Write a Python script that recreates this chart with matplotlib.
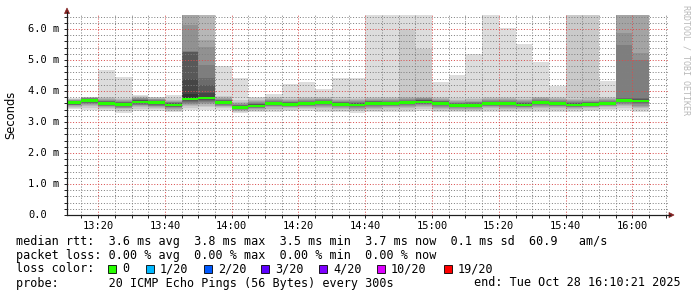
import numpy as np
import pandas as pd
import matplotlib
matplotlib.use("Agg")
import matplotlib.pyplot as plt
import matplotlib.dates as mdates
import matplotlib.transforms as mtransforms
from matplotlib.ticker import MultipleLocator
from matplotlib.patches import Polygon, Rectangle
from matplotlib.lines import Line2D

W, H = 697, 297
MONO = "DejaVu Sans Mono"

# 5 minute slots (start of each slot), 20 pings per slot
slot_start = pd.date_range("2025-10-28 13:10", "2025-10-28 16:00", freq="5min")
t_begin = pd.Timestamp("2025-10-28 13:10:40")
t_end = pd.Timestamp("2025-10-28 16:10:40")

# median rtt per slot (ms)
median_ms = [3.62, 3.69, 3.60, 3.57, 3.65, 3.62, 3.55, 3.74, 3.77, 3.63,
             3.47, 3.52, 3.59, 3.56, 3.59, 3.62, 3.56, 3.55, 3.60, 3.59,
             3.62, 3.65, 3.60, 3.53, 3.53, 3.59, 3.59, 3.55, 3.62, 3.59,
             3.55, 3.57, 3.59, 3.69, 3.68]

# sorted ping times per slot (ms)
pings_ms = [
    [3.42, 3.46, 3.49, 3.52, 3.54, 3.55, 3.56, 3.58, 3.60, 3.61, 3.63, 3.65, 3.67, 3.68, 3.69, 3.70, 3.71, 3.73, 3.75, 3.78],
    [3.38, 3.45, 3.50, 3.54, 3.57, 3.60, 3.62, 3.64, 3.66, 3.68, 3.70, 3.72, 3.74, 3.75, 3.76, 3.77, 3.78, 3.79, 3.80, 3.82],
    [3.37, 3.42, 3.46, 3.49, 3.51, 3.53, 3.54, 3.56, 3.57, 3.59, 3.61, 3.63, 3.65, 3.67, 3.69, 3.71, 3.73, 3.76, 3.80, 4.68],
    [3.30, 3.37, 3.41, 3.44, 3.46, 3.48, 3.50, 3.52, 3.54, 3.56, 3.58, 3.60, 3.62, 3.64, 3.66, 3.68, 3.70, 3.73, 3.77, 4.44],
    [3.35, 3.42, 3.47, 3.51, 3.54, 3.56, 3.58, 3.60, 3.62, 3.64, 3.66, 3.68, 3.70, 3.72, 3.74, 3.76, 3.78, 3.80, 3.83, 3.87],
    [3.36, 3.42, 3.46, 3.49, 3.51, 3.53, 3.55, 3.57, 3.59, 3.61, 3.63, 3.65, 3.67, 3.69, 3.71, 3.73, 3.75, 3.77, 3.79, 3.82],
    [3.31, 3.36, 3.40, 3.43, 3.45, 3.47, 3.49, 3.51, 3.53, 3.54, 3.56, 3.58, 3.60, 3.62, 3.64, 3.66, 3.69, 3.72, 3.77, 3.87],
    [3.38, 3.45, 3.50, 3.55, 3.59, 3.62, 3.65, 3.68, 3.71, 3.73, 3.90, 4.40, 5.26, 5.27, 5.28, 6.13, 6.60, 7.00, 7.50, 8.00],
    [3.40, 3.47, 3.52, 3.57, 3.61, 3.65, 3.69, 3.72, 3.74, 3.76, 3.79, 3.94, 4.19, 4.42, 4.84, 5.43, 5.65, 6.60, 7.00, 7.50],
    [3.39, 3.44, 3.48, 3.51, 3.53, 3.55, 3.57, 3.59, 3.61, 3.62, 3.64, 3.66, 3.68, 3.70, 3.72, 3.74, 3.76, 3.79, 3.83, 4.81],
    [3.28, 3.32, 3.35, 3.38, 3.40, 3.42, 3.43, 3.44, 3.45, 3.46, 3.48, 3.50, 3.52, 3.54, 3.56, 3.59, 3.62, 3.66, 3.72, 4.41],
    [3.31, 3.36, 3.40, 3.43, 3.45, 3.46, 3.47, 3.48, 3.49, 3.51, 3.53, 3.55, 3.57, 3.59, 3.61, 3.64, 3.67, 3.71, 3.76, 3.82],
    [3.33, 3.39, 3.43, 3.47, 3.50, 3.52, 3.54, 3.56, 3.57, 3.58, 3.60, 3.62, 3.64, 3.66, 3.68, 3.70, 3.73, 3.76, 3.80, 3.90],
    [3.35, 3.40, 3.44, 3.47, 3.49, 3.51, 3.52, 3.53, 3.54, 3.55, 3.57, 3.59, 3.61, 3.63, 3.65, 3.68, 3.71, 3.74, 3.79, 4.23],
    [3.35, 3.41, 3.45, 3.48, 3.51, 3.53, 3.55, 3.56, 3.57, 3.58, 3.60, 3.62, 3.64, 3.66, 3.68, 3.71, 3.74, 3.77, 3.81, 4.29],
    [3.33, 3.40, 3.45, 3.49, 3.52, 3.55, 3.57, 3.59, 3.60, 3.61, 3.63, 3.65, 3.67, 3.69, 3.71, 3.73, 3.75, 3.78, 3.82, 4.05],
    [3.31, 3.37, 3.41, 3.45, 3.48, 3.50, 3.52, 3.53, 3.54, 3.55, 3.57, 3.59, 3.61, 3.63, 3.65, 3.68, 3.71, 3.74, 3.79, 4.41],
    [3.28, 3.34, 3.39, 3.43, 3.46, 3.48, 3.50, 3.52, 3.53, 3.54, 3.56, 3.58, 3.60, 3.62, 3.64, 3.67, 3.70, 3.73, 3.78, 4.41],
    [3.31, 3.37, 3.42, 3.46, 3.49, 3.52, 3.54, 3.56, 3.58, 3.59, 3.61, 3.63, 3.65, 3.67, 3.69, 3.71, 3.74, 3.77, 3.82, 7.00],
    [3.33, 3.39, 3.44, 3.47, 3.50, 3.52, 3.54, 3.56, 3.57, 3.58, 3.60, 3.62, 3.64, 3.66, 3.68, 3.70, 3.73, 3.76, 3.81, 7.00],
    [3.33, 3.40, 3.45, 3.49, 3.52, 3.55, 3.57, 3.59, 3.60, 3.61, 3.63, 3.65, 3.67, 3.69, 3.71, 3.73, 3.76, 3.80, 5.99, 7.00],
    [3.35, 3.42, 3.47, 3.51, 3.54, 3.57, 3.59, 3.61, 3.62, 3.64, 3.66, 3.68, 3.70, 3.72, 3.74, 3.76, 3.78, 3.81, 5.36, 7.00],
    [3.31, 3.37, 3.42, 3.46, 3.49, 3.52, 3.54, 3.56, 3.58, 3.59, 3.61, 3.63, 3.65, 3.67, 3.69, 3.71, 3.74, 3.77, 3.81, 4.30],
    [3.31, 3.36, 3.40, 3.43, 3.45, 3.47, 3.49, 3.50, 3.51, 3.52, 3.54, 3.56, 3.58, 3.60, 3.62, 3.65, 3.68, 3.72, 3.77, 4.52],
    [3.31, 3.36, 3.40, 3.43, 3.45, 3.47, 3.49, 3.50, 3.51, 3.52, 3.54, 3.56, 3.58, 3.60, 3.63, 3.66, 3.69, 3.73, 3.78, 5.18],
    [3.33, 3.39, 3.44, 3.47, 3.50, 3.52, 3.54, 3.56, 3.57, 3.58, 3.60, 3.62, 3.64, 3.66, 3.68, 3.70, 3.73, 3.76, 3.80, 7.00],
    [3.31, 3.37, 3.42, 3.46, 3.49, 3.52, 3.54, 3.56, 3.57, 3.58, 3.60, 3.62, 3.64, 3.66, 3.68, 3.71, 3.74, 3.77, 3.81, 6.02],
    [3.33, 3.38, 3.42, 3.45, 3.47, 3.49, 3.51, 3.52, 3.53, 3.54, 3.56, 3.58, 3.60, 3.62, 3.64, 3.67, 3.70, 3.74, 3.79, 5.53],
    [3.33, 3.40, 3.45, 3.49, 3.52, 3.55, 3.57, 3.59, 3.60, 3.61, 3.63, 3.65, 3.67, 3.69, 3.71, 3.73, 3.76, 3.79, 3.82, 4.94],
    [3.33, 3.39, 3.44, 3.47, 3.50, 3.52, 3.54, 3.56, 3.57, 3.58, 3.60, 3.62, 3.64, 3.66, 3.68, 3.70, 3.73, 3.76, 3.81, 4.17],
    [3.33, 3.38, 3.42, 3.45, 3.47, 3.49, 3.51, 3.52, 3.53, 3.54, 3.56, 3.58, 3.60, 3.62, 3.64, 3.67, 3.70, 3.74, 6.80, 7.20],
    [3.35, 3.40, 3.44, 3.47, 3.49, 3.51, 3.53, 3.54, 3.55, 3.56, 3.58, 3.60, 3.62, 3.64, 3.66, 3.69, 3.72, 3.76, 6.80, 7.20],
    [3.39, 3.43, 3.47, 3.50, 3.52, 3.54, 3.55, 3.56, 3.57, 3.58, 3.60, 3.62, 3.64, 3.66, 3.68, 3.70, 3.73, 3.76, 3.80, 4.33],
    [3.39, 3.45, 3.50, 3.54, 3.58, 3.61, 3.63, 3.65, 3.67, 3.68, 3.70, 3.72, 3.74, 3.76, 5.48, 5.86, 6.70, 7.00, 7.40, 7.80],
    [3.31, 3.38, 3.44, 3.49, 3.53, 3.57, 3.60, 3.63, 3.65, 3.67, 3.69, 3.71, 3.73, 3.76, 5.00, 5.24, 6.70, 7.00, 7.40, 7.80],
]

loss_labels = ["0", "1/20", "2/20", "3/20", "4/20", "10/20", "19/20"]
loss_colors = ["#26ff00", "#00b8ff", "#0059ff", "#5e00ff", "#7e00ff", "#dd00ff", "#ff0000"]

rtt_line = "median rtt:  3.6 ms avg  3.8 ms max  3.5 ms min  3.7 ms now  0.1 ms sd  60.9   am/s"
loss_line = "packet loss: 0.00 % avg  0.00 % max  0.00 % min  0.00 % now"
probe_line = "probe:       20 ICMP Echo Pings (56 Bytes) every 300s"
end_line = "end: Tue Oct 28 16:10:21 2025"

fig = plt.figure(figsize=(W / 100, H / 100), dpi=100, facecolor="white")
ax = fig.add_axes([67 / W, (H - 215) / H, 601 / W, 200 / H])
ax.set_facecolor("white")

# step edges
x_edges = mdates.date2num(list(slot_start) + [slot_start[-1] + pd.Timedelta(minutes=5)])
pings = np.array(pings_ms)
med = np.array(median_ms)

# smoke: pairs of pings from outside to inside, getting darker
half = pings.shape[1] // 2
for k in range(1, half + 1):
    g = int(190 / half * (half - k)) + 50
    col = "#%02x%02x%02x" % (g, g, g)
    lo = np.append(pings[:, k - 1], pings[-1, k - 1])
    hi = np.append(pings[:, -k], pings[-1, -k])
    ax.fill_between(x_edges, lo, hi, step="post", color=col, linewidth=0, zorder=1)

# median, coloured by loss (all zero here)
sw = 0.042
m_ext = np.append(med, med[-1])
ax.fill_between(x_edges, m_ext - sw, m_ext + sw, step="post",
                color=loss_colors[0], linewidth=0, zorder=3)

ax.set_xlim(mdates.date2num(t_begin), mdates.date2num(t_end))
ax.set_ylim(0, 6.45)

ax.yaxis.set_major_locator(MultipleLocator(1))
ax.yaxis.set_minor_locator(MultipleLocator(0.2))
ax.xaxis.set_major_locator(mdates.MinuteLocator(byminute=[0, 20, 40]))
ax.xaxis.set_minor_locator(mdates.MinuteLocator(byminute=range(0, 60, 5)))
ax.xaxis.set_major_formatter(mdates.DateFormatter("%H:%M"))

ax.set_axisbelow(False)
ax.grid(which="minor", color=(0.5, 0.5, 0.5, 0.28), linestyle=(0, (1, 1.8)), linewidth=0.72)
ax.grid(which="major", color=(0.85, 0.3, 0.3, 0.33), linestyle=(0, (1, 1.8)), linewidth=0.72)

for s in ["top", "right"]:
    ax.spines[s].set_visible(False)
for s in ["left", "bottom"]:
    ax.spines[s].set_color("#1f1f1f")
    ax.spines[s].set_linewidth(0.8)

ax.tick_params(which="both", direction="out", length=2, width=0.7, color="#1f1f1f")
ax.tick_params(axis="y", labelleft=False)
ax.tick_params(axis="x", which="major", labelsize=7.5, pad=2.5)
for lab in ax.get_xticklabels():
    lab.set_family(MONO)

# y tick labels, left aligned like rrdtool
ytrans = mtransforms.blended_transform_factory(fig.transFigure, ax.transData)
for v in range(0, 7):
    txt = "0.0" if v == 0 else "%.1f m" % v
    ax.text(28 / W, v, txt, transform=ytrans, ha="left", va="center",
            fontsize=7.5, family=MONO, clip_on=False)

# axis extensions and arrows (pixel coordinates)
arrow_col = "#801f1f"
fig.add_artist(Line2D([67, 67], [H - 215, H - 12], transform=None, color="#1f1f1f", linewidth=0.8))
fig.add_artist(Line2D([67, 670], [H - 215, H - 215], transform=None, color="#1f1f1f", linewidth=0.8))
fig.add_artist(Polygon([[64.5, H - 13.5], [69.5, H - 13.5], [67, H - 8]], closed=True,
                       transform=None, facecolor=arrow_col, edgecolor=arrow_col, linewidth=0.5))
fig.add_artist(Polygon([[669, H - 212.5], [669, H - 217.5], [674, H - 215]], closed=True,
                       transform=None, facecolor=arrow_col, edgecolor=arrow_col, linewidth=0.5))

fig.text(11 / W, 1 - 115 / H, "Seconds", rotation=90, ha="center", va="center",
         fontsize=8.3, family="DejaVu Sans")
fig.text(686 / W, 1 - 60 / H, "RRDTOOL / TOBI OETIKER", rotation=270, ha="center", va="center",
         fontsize=6, family=MONO, color="#b8b8b8")

# legend block
fs = 8.5
fig.text(16 / W, 1 - 241 / H, rtt_line, ha="left", va="center", fontsize=fs, family=MONO)
fig.text(16 / W, 1 - 255 / H, loss_line, ha="left", va="center", fontsize=fs, family=MONO)
fig.text(16 / W, 1 - 269 / H, "loss color:", ha="left", va="center", fontsize=fs, family=MONO)
box_x = [108, 146, 204, 261, 319, 377, 444]
for bx, lab, col in zip(box_x, loss_labels, loss_colors):
    fig.add_artist(Rectangle((bx, H - 273), 8, 8, transform=None,
                             facecolor=col, edgecolor="black", linewidth=0.6))
    fig.text((bx + 14) / W, 1 - 269 / H, lab, ha="left", va="center", fontsize=fs, family=MONO)
fig.text(16 / W, 1 - 283 / H, probe_line, ha="left", va="center", fontsize=fs, family=MONO)
fig.text(681 / W, 1 - 283 / H, end_line, ha="right", va="center", fontsize=fs, family=MONO)

fig.savefig("out.png", dpi=100, facecolor="white")
